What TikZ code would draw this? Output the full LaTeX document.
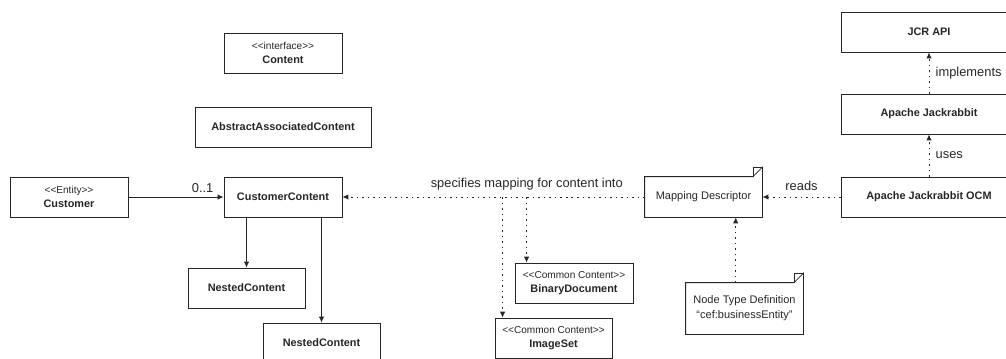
\documentclass[tikz,border=0pt]{standalone}
\usepackage{fontspec}
\setmainfont{Liberation Sans}[Ligatures=TeXOff]
\usepackage{tikz}
\usetikzlibrary{arrows.meta}
\usetikzlibrary{calc,positioning}

\begin{document}
\begin{tikzpicture}[x=0.03cm,y=-0.03cm,
	box/.style={draw=black!85,line width=0.7pt,minimum width=3.54cm,minimum height=1.2cm,
		align=center,inner sep=1pt,text=black!85},
	wbox/.style={box,minimum width=5.28cm},
	note/.style={box,draw=none},
	st/.style={font=\fontsize{8.6}{12}\selectfont},
	nm/.style={font=\fontsize{9.3}{12}\selectfont\bfseries},
	lbl/.style={font=\fontsize{11}{13}\selectfont,text=black!85},
	assoc/.style={draw=black!85,line width=0.7pt,-{Latex[length=5pt,width=4.5pt]}},
	dep/.style={assoc,dash pattern=on 1.3pt off 3.4pt}]
	\useasboundingbox (0,0) rectangle (1006,358);
	% classes on the left
	\node[box] (cont) at (283,53) {{\fontsize{8.6}{14}\selectfont <<interface>>}\\ \textbf{\fontsize{9.3}{12}\selectfont Content}};
	\node[wbox,nm] (abs) at (283,127) {AbstractAssociatedContent};
	\node[box] (cust) at (69,197) {{\fontsize{8.6}{14}\selectfont <<Entity>>}\\ \textbf{\fontsize{9.3}{12}\selectfont Customer}};
	\node[box,nm] (cc) at (283,197) {CustomerContent};
	\node[box,nm,minimum width=3.51cm] (nc1) at (246.5,288) {NestedContent};
	\node[box,nm,minimum width=3.51cm] (nc2) at (321.5,343) {NestedContent};
	\node[box] (bin) at (574,283) {{\fontsize{8.6}{14}\selectfont <<Common Content>>}\\ \textbf{\fontsize{9.3}{12}\selectfont BinaryDocument}};
	\node[box,minimum width=3.51cm] (img) at (553.5,338) {{\fontsize{8.6}{14}\selectfont <<Common Content>>}\\ \textbf{\fontsize{9.3}{12}\selectfont ImageSet}};
	% notes
	\node[note,minimum width=3.51cm,font=\fontsize{9.4}{12}\selectfont] (md) at (703.5,197) {Mapping Descriptor};
	\node[note,minimum width=3.51cm,minimum height=1.53cm,font=\fontsize{9.4}{13}\selectfont] (ntd) at (744.5,308.5) {Node Type Definition\\ “cef:businessEntity”};
	\foreach \n in {md,ntd}{
		\draw[draw=black!85,line width=0.7pt] (\n.south west) -- (\n.north west) -- ([xshift=-8]\n.north east)
			-- ([yshift=8]\n.north east) -- (\n.south east) -- cycle;
		\draw[draw=black!85,line width=0.6pt] ([xshift=-8]\n.north east) -- ([xshift=-8,yshift=8]\n.north east) -- ([yshift=8]\n.north east);
	}
	% jackrabbit stack
	\node[wbox,nm] (jcr) at (929,32) {JCR API};
	\node[wbox,nm] (jr) at (929,114) {Apache Jackrabbit};
	\node[wbox,nm] (ocm) at (929,197) {Apache Jackrabbit OCM};
	% connectors
	\draw[assoc] (cust) -- node[lbl,above,pos=0.78] {0..1} (cc);
	\draw[assoc] (cc.south -| nc1.north) -- (nc1);
	\draw[assoc] (cc.south -| nc2.north) -- (nc2);
	\draw[dep] (md) -- node[lbl,above=2pt,pos=0.39] {specifies mapping for content into} (cc);
	\coordinate (b) at ([xshift=0.36cm]bin.north west);
	\coordinate (i) at ([xshift=0.24cm]img.north west);
	\draw[dep] (b |- md.west) -- (b);
	\draw[dep] (i |- md.west) -- (i);
	\coordinate (t) at ([xshift=-7.5]ntd.north);
	\draw[dep] (t) -- (t |- md.south);
	\draw[dep] (ocm) -- node[lbl,above=2pt] {reads} (md);
	\draw[dep] (ocm) -- node[lbl,right=2pt] {uses} (jr);
	\draw[dep] (jr) -- node[lbl,right=2pt] {implements} (jcr);
\end{tikzpicture}
\end{document}
